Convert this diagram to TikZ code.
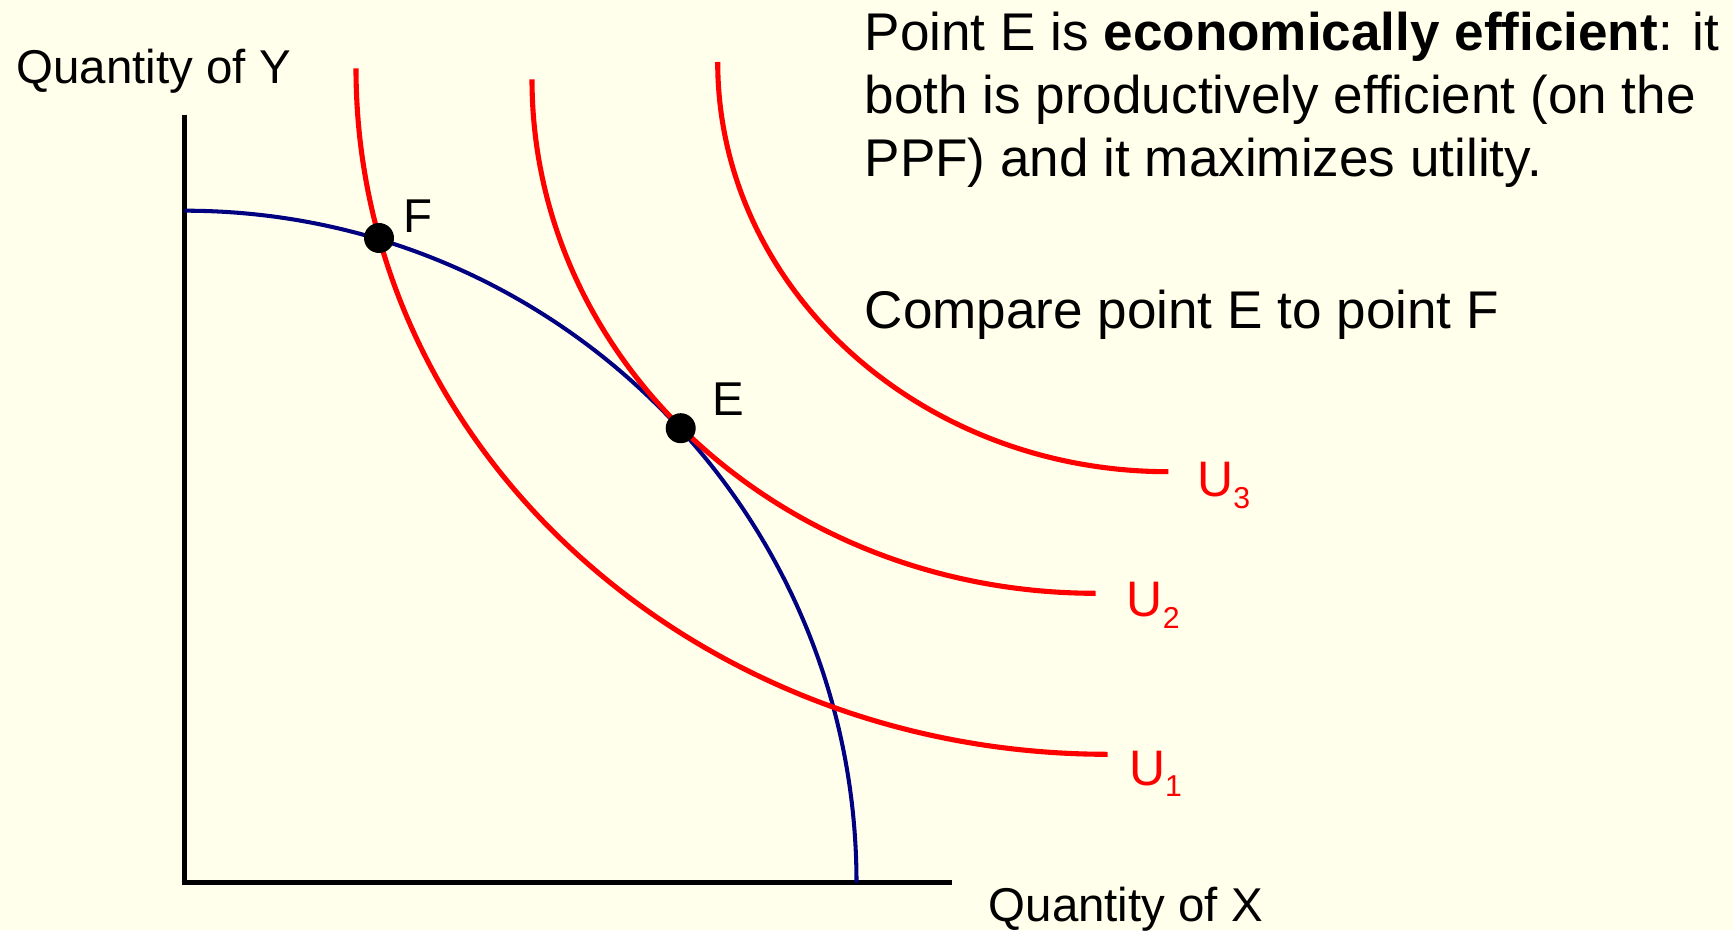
\documentclass[tikz,border=0pt]{standalone}
\usepackage{fontspec}
\setmainfont{Liberation Sans}

\definecolor{bgyellow}{RGB}{255,255,235}
\definecolor{ppfblue}{RGB}{0,0,128}
\newcommand{\usub}[1]{U\raisebox{-3.3pt}{\fontsize{8.6}{10}\selectfont #1}}

\begin{document}
\begin{tikzpicture}[
    dot/.style={circle, fill=black, inner sep=0pt, minimum size=0.3cm},
    axis/.style={line width=1.3pt},
    ppf/.style={ppfblue, line width=1.15pt},
    icurve/.style={red, line width=1.45pt},
    lbl/.style={anchor=base west, inner sep=0pt, font=\fontsize{13.5}{16}\selectfont},
    ulbl/.style={anchor=base west, inner sep=0pt, text=red, font=\fontsize{14.2}{17}\selectfont},
    txt/.style={anchor=base west, inner sep=0pt, align=left, font=\fontsize{15.1}{18}\selectfont}
]
    % 背景
    \fill[bgyellow] (-1.845,-0.473) rectangle (15.485,8.827);

    % 坐标轴
    \coordinate (O) at (0,0);
    \coordinate (Ytop) at (0,7.68);
    \coordinate (Xend) at (7.67,0);
    \draw[axis] (Ytop) -- (O) -- (Xend);
    \node[lbl] (ylab) at (-1.685,7.994) {Quantity of Y}; % 纵轴
    \node[lbl] (xlab) at (8.035,-0.39) {Quantity of X};  % 横轴

    % 1. 生产可能性边界
    \draw[ppf] (0,6.72) arc[start angle=90, end angle=0, radius=6.72];

    % 2. 三条无差异曲线
    \draw[icurve] (1.715,8.144) arc[start angle=180, end angle=270, x radius=7.516, y radius=6.86];
    \draw[icurve] (3.475,8.034) arc[start angle=180, end angle=270, x radius=5.635, y radius=5.14];
    \draw[icurve] (5.332,8.207) arc[start angle=180, end angle=270, x radius=4.506, y radius=4.097];
    \node[ulbl] (U1) at (9.438,0.977) {\usub{1}};
    \node[ulbl] (U2) at (9.415,2.66) {\usub{2}};
    \node[ulbl] (U3) at (10.122,3.86) {\usub{3}};

    % 3. 点 F 和 E
    \node[dot] (F) at (1.945,6.447) {};
    \node[dot] (E) at (4.962,4.545) {};
    \node[lbl] (Flab) at (2.185,6.50) {F};
    \node[lbl] (Elab) at (5.275,4.67) {E};

    % 说明文字 (基线在最后一行)
    \node[txt] (note) at (6.795,7.06) {Point E is \textbf{economically efficient}: it\\
        both is productively efficient (on the\\
        PPF) and it maximizes utility.};
    \node[txt] (cmp) at (6.795,5.544) {Compare point E to point F};

\end{tikzpicture}
\end{document}
